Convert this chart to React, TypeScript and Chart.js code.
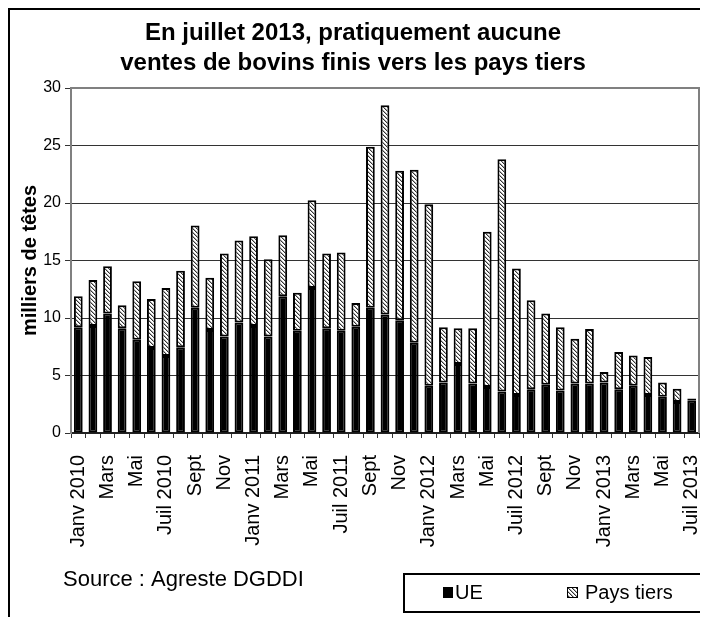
import React, { useEffect, useRef } from 'react';
import { Chart, registerables } from 'chart.js';

Chart.register(...registerables);

const categories = [
  'Janv 2010', 'Févr 2010', 'Mars 2010', 'Avr 2010', 'Mai 2010', 'Juin 2010', 'Juil 2010', 'Août 2010', 'Sept 2010', 'Oct 2010', 'Nov 2010', 'Déc 2010',
  'Janv 2011', 'Févr 2011', 'Mars 2011', 'Avr 2011', 'Mai 2011', 'Juin 2011', 'Juil 2011', 'Août 2011', 'Sept 2011', 'Oct 2011', 'Nov 2011', 'Déc 2011',
  'Janv 2012', 'Févr 2012', 'Mars 2012', 'Avr 2012', 'Mai 2012', 'Juin 2012', 'Juil 2012', 'Août 2012', 'Sept 2012', 'Oct 2012', 'Nov 2012', 'Déc 2012',
  'Janv 2013', 'Févr 2013', 'Mars 2013', 'Avr 2013', 'Mai 2013', 'Juin 2013', 'Juil 2013',
];

const tickLabels = [
  'Janv 2010', '', 'Mars', '', 'Mai', '', 'Juil 2010', '', 'Sept', '', 'Nov', '',
  'Janv 2011', '', 'Mars', '', 'Mai', '', 'Juil 2011', '', 'Sept', '', 'Nov', '',
  'Janv 2012', '', 'Mars', '', 'Mai', '', 'Juil 2012', '', 'Sept', '', 'Nov', '',
  'Janv 2013', '', 'Mars', '', 'Mai', '', 'Juil 2013',
];

const ueValues = [
  9.2, 9.3, 10.4, 9.1, 8.1, 7.4, 6.7, 7.45, 10.9, 8.95, 8.4, 9.6,
  9.3, 8.4, 11.9, 8.9, 12.6, 9.1, 8.9, 9.25, 10.9, 10.3, 9.8, 7.85,
  4.1, 4.4, 6.0, 4.3, 4.0, 3.6, 3.3, 3.8, 4.2, 3.7, 4.3, 4.3,
  4.4, 3.8, 4.1, 3.3, 3.15, 2.7, 2.8,
];

const paysTiersValues = [
  2.7, 4.0, 4.1, 2.0, 5.1, 4.25, 5.9, 6.65, 7.15, 4.55, 7.2, 7.15,
  7.8, 6.7, 5.3, 3.3, 7.65, 6.5, 6.8, 2.05, 14.0, 18.2, 13.0, 15.05,
  15.8, 4.8, 3.1, 4.8, 13.5, 20.2, 11.0, 7.75, 6.2, 5.5, 3.9, 4.75,
  0.9, 3.25, 2.65, 3.3, 1.25, 1.15, 0.2,
];

const yMin = 0;
const yMax = 30;
const yStep = 5;

const titleLines = ['En juillet 2013, pratiquement aucune', 'ventes de bovins finis vers les pays tiers'];
const yAxisTitle = 'milliers de têtes';
const sourceText = 'Source : Agreste DGDDI';
const seriesNames = ['UE', 'Pays tiers'];

const FONT = '"Liberation Sans", Arial, sans-serif';

function makeHatch(): CanvasPattern | string {
  const p = document.createElement('canvas');
  p.width = 4;
  p.height = 4;
  const g = p.getContext('2d');
  if (!g) return '#bbb';
  g.fillStyle = '#ffffff';
  g.fillRect(0, 0, 4, 4);
  for (let i = 0; i < 4; i++) {
    g.fillStyle = '#333333';
    g.fillRect(i, i, 1, 1);
    g.fillStyle = '#b0b0b0';
    g.fillRect((i + 1) % 4, i, 1, 1);
  }
  return g.createPattern(p, 'repeat') || '#bbb';
}

export default function App() {
  const ref = useRef<HTMLCanvasElement>(null);

  useEffect(() => {
    const canvas = ref.current;
    if (!canvas) return;
    const hatch = makeHatch();

    const deco = {
      id: 'deco',
      afterDraw(chart: any) {
        const c = chart.ctx as CanvasRenderingContext2D;
        const a = chart.chartArea;
        c.save();
        // outer frame (left & top)
        c.strokeStyle = '#000';
        c.lineWidth = 2;
        c.beginPath();
        c.moveTo(1, chart.height);
        c.lineTo(1, 1);
        c.lineTo(chart.width, 1);
        c.stroke();
        // plot area frame top & right
        c.strokeStyle = '#808080';
        c.lineWidth = 2;
        c.beginPath();
        c.moveTo(a.left, a.top);
        c.lineTo(a.right, a.top);
        c.lineTo(a.right, a.bottom);
        c.stroke();
        // title
        c.fillStyle = '#000';
        c.font = `bold 24px ${FONT}`;
        c.textAlign = 'center';
        c.textBaseline = 'middle';
        titleLines.forEach((t, i) => c.fillText(t, 345, 25 + i * 30));
        // source
        c.font = `22px ${FONT}`;
        c.textAlign = 'left';
        c.fillText(sourceText, 55, 572);
        // legend box
        c.strokeStyle = '#000';
        c.lineWidth = 2;
        c.strokeRect(396, 566, 302, 38);
        // UE marker
        c.fillStyle = '#000';
        c.fillRect(435, 579, 10, 11);
        c.font = `20px ${FONT}`;
        c.fillText(seriesNames[0], 447, 585);
        // Pays tiers marker
        c.fillStyle = hatch as any;
        c.fillRect(559, 579, 10, 11);
        c.strokeStyle = '#000';
        c.lineWidth = 1;
        c.strokeRect(559.5, 579.5, 10, 10);
        c.fillStyle = '#000';
        c.fillText(seriesNames[1], 577, 585);
        c.restore();
      },
    };

    const chart = new Chart(canvas, {
      type: 'bar',
      data: {
        labels: categories,
        datasets: [
          {
            label: seriesNames[0],
            data: ueValues,
            backgroundColor: '#000',
            borderColor: '#000',
            borderWidth: 2,
            borderSkipped: false,
            barPercentage: 0.6,
            categoryPercentage: 1,
          },
          {
            label: seriesNames[1],
            data: paysTiersValues,
            backgroundColor: hatch as any,
            borderColor: '#000',
            borderWidth: 2,
            borderSkipped: false,
            barPercentage: 0.6,
            categoryPercentage: 1,
          },
        ],
      },
      options: {
        animation: false,
        responsive: false,
        devicePixelRatio: 1,
        layout: { padding: { top: 80, left: 0, right: 9, bottom: 0 } },
        plugins: {
          legend: { display: false },
          title: { display: false },
          tooltip: { enabled: false },
        },
        scales: {
          x: {
            stacked: true,
            offset: true,
            grid: {
              display: true,
              drawOnChartArea: false,
              drawTicks: true,
              tickLength: 5,
              color: '#333',
              offset: true,
            },
            border: { display: true, color: '#222', width: 2 },
            ticks: {
              autoSkip: false,
              maxRotation: 90,
              minRotation: 90,
              padding: 17,
              color: '#000',
              font: { size: 20, family: FONT },
              callback: (_v: any, i: number) => tickLabels[i],
            },
            afterFit(s: any) {
              s.height = 184;
              s.paddingLeft = 0;
              s.paddingRight = 0;
            },
          },
          y: {
            stacked: true,
            min: yMin,
            max: yMax,
            ticks: {
              stepSize: yStep,
              padding: 4,
              color: '#000',
              font: { size: 16, family: FONT },
            },
            grid: { color: '#333', tickLength: 6, lineWidth: 1 },
            border: { color: '#808080', width: 2 },
            title: {
              display: true,
              text: yAxisTitle,
              color: '#000',
              font: { size: 20, weight: 'bold', family: FONT },
              padding: { top: 10, bottom: 0 },
            },
            afterFit(s: any) {
              s.width = 63;
              s.paddingTop = 0;
              s.paddingBottom = 0;
            },
          },
        },
      },
      plugins: [deco],
    });

    return () => chart.destroy();
  }, []);

  return (
    <div style={{ width: 700, height: 609 }}>
      <canvas ref={ref} width={700} height={609} style={{ display: 'block' }} />
    </div>
  );
}
